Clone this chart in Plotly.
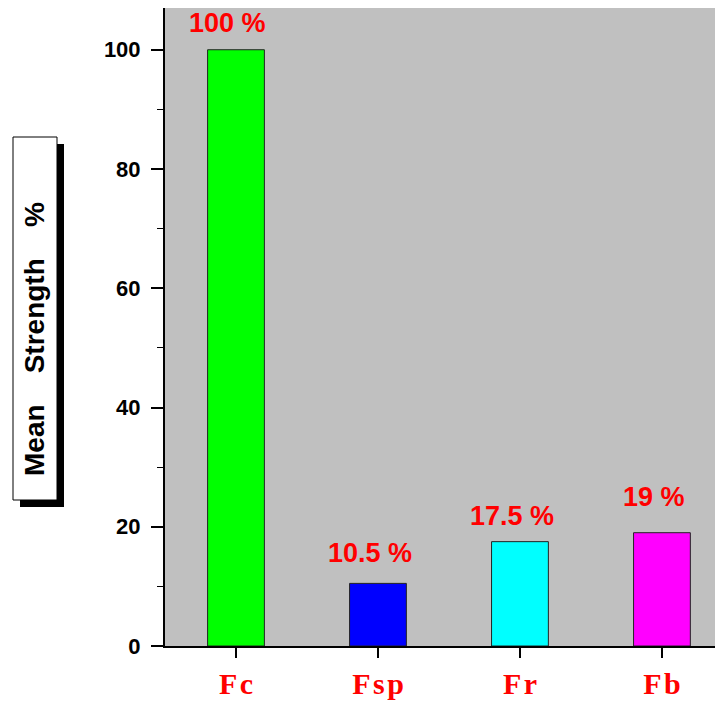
import plotly.graph_objects as go

# data
categories = ["Fc", "Fsp", "Fr", "Fb"]
strength = [100, 10.5, 17.5, 19]
labels = ["100 %", "10.5 %", "17.5 %", "19 %"]
bar_colors = ["#00FF00", "#0000FF", "#00FFFF", "#FF00FF"]
label_shift = [27, 30, 26, 36]  # px above bar top (text centre)

# page is drawn with an 8px body margin, so the figure is shrunk to fit
OFF = 8
W, H = 723 - OFF, 704 - OFF
L, R, T, B = 165 - OFF, 0, 0, 58
pw, ph = W - L - R, H - T - B


def px_x(x):
    # page pixel -> paper coordinate
    return (x - OFF - L) / pw


def px_y(y):
    return (H - B - (y - OFF)) / ph


fig = go.Figure()
fig.add_trace(go.Bar(
    x=list(range(len(categories))), y=strength,
    width=0.4,
    marker=dict(color=bar_colors, line=dict(color="#222222", width=1)),
    showlegend=False,
))

# value labels
for i, (v, t) in enumerate(zip(strength, labels)):
    fig.add_annotation(x=i, y=v, text=t, showarrow=False, yanchor="middle",
                       xanchor="center", yshift=label_shift[i], xshift=-8,
                       font=dict(family="Liberation Sans", size=27, color="#FF0000",
                                 weight="bold"),
                       xref="x", yref="y")

# boxed y-axis title with drop shadow
fig.add_shape(type="rect", xref="paper", yref="paper",
              x0=px_x(20), x1=px_x(64), y0=px_y(507), y1=px_y(144),
              fillcolor="black", line=dict(width=0))
fig.add_shape(type="rect", xref="paper", yref="paper",
              x0=px_x(13), x1=px_x(57), y0=px_y(500), y1=px_y(137),
              fillcolor="white", line=dict(color="black", width=1))
sp = "\u00a0" * 4
fig.add_annotation(xref="paper", yref="paper", x=px_x(34), y=px_y(339),
                   xanchor="center", yanchor="middle",
                   text="Mean" + sp + "Strength" + sp + "%",
                   textangle=-90, showarrow=False,
                   font=dict(family="Liberation Sans", size=28, color="black",
                             weight="bold"))

tick_text = ["<b>" + "\u200a".join(c) + "</b>" for c in categories]

fig.update_layout(
    width=W, height=H,
    margin=dict(l=L, r=R, t=T, b=B),
    paper_bgcolor="white",
    plot_bgcolor="#C0C0C0",
    xaxis=dict(
        range=[-0.5, 3.43],
        tickmode="array", tickvals=list(range(len(categories))), ticktext=tick_text,
        ticks="outside", ticklen=10, tickwidth=2, tickcolor="black",
        showline=True, linecolor="black", linewidth=2,
        showgrid=False, zeroline=False,
        tickfont=dict(family="Liberation Serif", size=30, color="#FF0000"),
    ),
    yaxis=dict(
        range=[0, 107],
        tickmode="linear", tick0=0, dtick=20,
        ticks="outside", ticklen=12, tickwidth=2, tickcolor="black",
        minor=dict(ticks="outside", ticklen=6, tickwidth=1, dtick=10, tickcolor="black"),
        showline=True, linecolor="black", linewidth=2,
        showgrid=False, zeroline=False,
        tickfont=dict(family="Liberation Sans", size=22, color="black", weight="bold"),
        ticklabelstandoff=6,
    ),
)

fig.write_html("out.html")
